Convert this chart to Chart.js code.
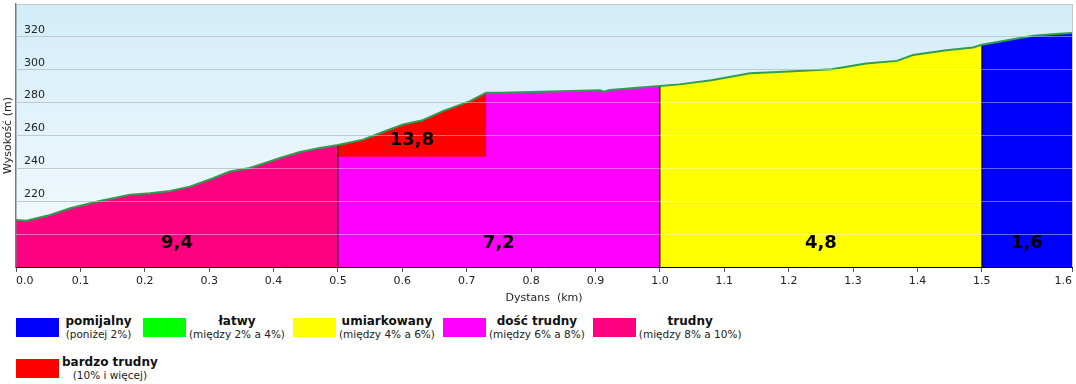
<!DOCTYPE html>
<html><head><meta charset="utf-8">
<script src="https://cdn.jsdelivr.net/npm/chart.js@4.4.1/dist/chart.umd.min.js"></script>
<style>
html,body{margin:0;padding:0;background:#fff;}
body{width:1076px;height:384px;overflow:hidden;position:relative;font-family:'DejaVu Sans',Verdana,sans-serif;}
#wrap{position:absolute;left:0;top:0;width:1076px;height:308px;}
.row{position:absolute;left:16px;display:flex;align-items:flex-start;}
.item{display:flex;align-items:flex-start;margin-right:5px;}
.sw{width:43px;height:19px;flex:none;}
.txt{text-align:center;padding:0 3px;min-width:73px;margin-top:-3px;color:#111;white-space:nowrap;}
.nm{font-weight:bold;font-size:12px;line-height:13px;}
.rg{font-size:10.5px;line-height:13px;color:#222;}
</style></head><body>
<div id="wrap"><canvas id="c"></canvas></div>
<div class="row" id="row1" style="top:318px"></div>
<div class="row" id="row2" style="top:359px"></div>
<script>
// ---- data ----
const distanceKm = [0, 0.016, 0.053, 0.084, 0.13, 0.177, 0.208, 0.239, 0.27, 0.306, 0.332, 0.363, 0.394, 0.41, 0.441, 0.472, 0.5, 0.539, 0.573, 0.601, 0.63, 0.663, 0.705, 0.73, 0.752, 0.907, 0.913, 0.922, 1.0, 1.03, 1.08, 1.14, 1.2, 1.267, 1.32, 1.368, 1.393, 1.445, 1.486, 1.5, 1.544, 1.58, 1.615, 1.64];
const elevationM = [208.6, 208.2, 211.6, 215.7, 220.2, 223.9, 224.9, 226.3, 228.9, 234.0, 238.1, 240.2, 244.2, 246.3, 250.0, 252.4, 254.2, 257.5, 262.6, 266.7, 269.1, 274.8, 280.9, 286.0, 286.0, 287.5, 286.6, 287.7, 290.1, 291.1, 293.6, 297.9, 298.9, 300.3, 303.8, 305.4, 309.0, 311.9, 313.6, 315.2, 318.2, 320.7, 321.7, 322.3];
const xTickValues = [0, 0.1, 0.2, 0.3, 0.4, 0.5, 0.6, 0.7, 0.8, 0.9, 1.0, 1.1, 1.2, 1.3, 1.4, 1.5, 1.64];
const yRange = [180, 340];
const yStep = 20;
const segmentStart = [0.0, 0.5, 1.0, 1.5, 0.5];
const segmentEnd   = [0.5, 1.0, 1.5, 1.64, 0.73];
const segmentGrade = ['9,4', '7,2', '4,8', '1,6', '13,8'];
const segmentClass = [4, 3, 2, 0, 5];
const segmentFloor = [null, null, null, null, 247];
const classNames  = ['pomijalny', 'łatwy', 'umiarkowany', 'dość trudny', 'trudny', 'bardzo trudny'];
const classRanges = ['(poniżej 2%)', '(między 2% a 4%)', '(między 4% a 6%)', '(między 6% a 8%)', '(między 8% a 10%)', '(10% i więcej)'];

// ---- styles ----
const classColors = ['#0000ff', '#00ff00', '#ffff00', '#ff00ff', '#ff0080', '#ff0000'];
const legendRows = [[0, 1, 2, 3, 4], [5]];

Chart.defaults.font.family = "'DejaVu Sans', Verdana, sans-serif";

const profile = distanceKm.map((d, i) => ({x: d, y: elevationM[i]}));
const within = (a, b) => profile.filter(p => p.x >= a - 1e-9 && p.x <= b + 1e-9);
const elevAt = d => elevationM[distanceKm.findIndex(v => Math.abs(v - d) < 1e-9)];

const datasets = [];
datasets.push({label: 'profile', data: profile, borderColor: '#2f9d50', borderWidth: 2, fill: false, pointRadius: 0, tension: 0});
const bounds = [];
segmentStart.forEach((s, i) => {
  if (s > 0 && segmentFloor[i] === null) bounds.push({x: s, y: yRange[0]}, {x: s, y: elevAt(s)}, {x: s, y: null});
});
datasets.push({label: 'bounds', data: bounds, borderColor: '#000', borderWidth: 1, pointRadius: 0, spanGaps: false, fill: false});
const segOrder = segmentStart.map((s, i) => i).sort((a, b) => (segmentFloor[b] !== null) - (segmentFloor[a] !== null));
segOrder.forEach(i => datasets.push({
  label: 'seg' + i, data: within(segmentStart[i], segmentEnd[i]),
  backgroundColor: classColors[segmentClass[i]], borderColor: 'rgba(0,0,0,0)', borderWidth: 0,
  pointRadius: 0, tension: 0,
  fill: segmentFloor[i] === null ? 'start' : {value: segmentFloor[i]}
}));

const skyPlugin = {
  id: 'sky',
  beforeDraw(chart) {
    const {ctx, chartArea: a} = chart;
    const g = ctx.createLinearGradient(0, a.top, 0, a.bottom);
    g.addColorStop(0, '#d2edf9');
    g.addColorStop(1, '#f6fbfd');
    ctx.save(); ctx.fillStyle = g; ctx.fillRect(a.left, a.top, a.right - a.left, a.bottom - a.top); ctx.restore();
  }
};
const gradePlugin = {
  id: 'grades',
  afterDraw(chart) {
    const {ctx, chartArea: a, scales} = chart;
    ctx.save();
    ctx.font = "bold 18px 'DejaVu Sans', Verdana, sans-serif";
    ctx.fillStyle = '#000'; ctx.textAlign = 'center'; ctx.textBaseline = 'middle';
    segmentGrade.forEach((t, i) => {
      const x = scales.x.getPixelForValue((segmentStart[i] + segmentEnd[i]) / 2);
      const y = segmentFloor[i] === null ? a.bottom - 24 : scales.y.getPixelForValue(segmentFloor[i]) - 17;
      ctx.fillText(t, x, y);
    });
    ctx.restore();
  }
};

new Chart(document.getElementById('c'), {
  type: 'line',
  data: {datasets},
  options: {
    responsive: true, maintainAspectRatio: false, animation: false,
    layout: {padding: {left: 1.4, right: 4, top: 4, bottom: 0}},
    plugins: {legend: {display: false}, tooltip: {enabled: false}},
    elements: {line: {tension: 0}},
    scales: {
      x: {
        type: 'linear', min: 0, max: xTickValues[xTickValues.length - 1],
        afterBuildTicks: s => { s.ticks = xTickValues.map(v => ({value: v})); },
        ticks: {align: 'inner', autoSkip: false, maxRotation: 0, padding: 2.5, color: '#222', font: {size: 11}, z: 1,
                callback: v => Number(v).toFixed(1)},
        grid: {display: true, drawOnChartArea: false, drawTicks: true, tickLength: 5, tickColor: '#555', z: 1},
        border: {display: true, color: '#000', width: 1, z: 2},
        title: {display: true, text: 'Dystans  (km)', color: '#222', font: {size: 11}, padding: {top: 3, bottom: 3}},
        afterFit: s => { s.height = 41; }
      },
      y: {
        type: 'linear', position: 'left', min: yRange[0], max: yRange[1],
        ticks: {stepSize: yStep, mirror: true, padding: 8, labelOffset: -7, color: '#222', font: {size: 11}, z: 0,
                callback: v => (v >= yRange[1] ? '' : String(v))},
        grid: {color: '#9aa4aa', lineWidth: 1, drawTicks: false, z: -1},
        border: {display: true, color: '#7a7a7a', width: 1.5, z: 1},
        title: {display: true, text: 'Wysokość (m)', color: '#222', font: {size: 11}, padding: {top: 0, bottom: 0}},
        afterFit: s => { s.paddingTop = 0; s.paddingBottom = 0; s.width = 14.6; }
      },
      yr: {
        type: 'linear', position: 'right', min: yRange[0], max: yRange[1],
        ticks: {display: false, stepSize: yStep},
        grid: {color: c => (c.tick && c.tick.value <= yRange[0] ? 'rgba(0,0,0,0)' : 'rgba(255,255,255,0.4)'), drawTicks: false, z: 1},
        border: {display: true, color: '#c8c8c8', width: 1, z: 1}
      }
    }
  },
  plugins: [skyPlugin, gradePlugin]
});

legendRows.forEach((r, ri) => {
  const row = document.getElementById('row' + (ri + 1));
  r.forEach(k => {
    const it = document.createElement('div'); it.className = 'item';
    const sw = document.createElement('div'); sw.className = 'sw'; sw.style.background = classColors[k];
    const t = document.createElement('div'); t.className = 'txt';
    const a = document.createElement('div'); a.className = 'nm'; a.textContent = classNames[k];
    const b = document.createElement('div'); b.className = 'rg'; b.textContent = classRanges[k];
    t.append(a, b); it.append(sw, t); row.append(it);
  });
});
</script>
</body></html>
